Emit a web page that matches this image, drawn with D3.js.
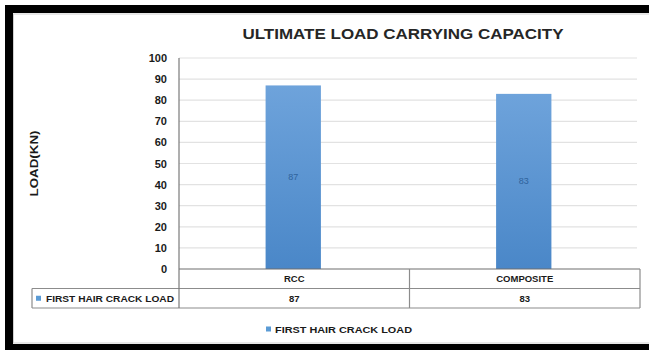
<!DOCTYPE html>
<html>
<head>
<meta charset="utf-8">
<script src="https://cdn.jsdelivr.net/npm/d3@7"></script>
<style>
  html, body { margin: 0; padding: 0; background: #ffffff; }
  svg { display: block; }
  .lbl { font-family: "Liberation Sans Narrow", "Arial Narrow", "Liberation Sans", Arial, sans-serif; font-weight: bold; fill: #1a1a1a; }
</style>
</head>
<body>
<svg id="chart" width="649" height="350"></svg>
<script>
// Chart data
const categories = ["RCC", "COMPOSITE"];
const seriesName = "FIRST HAIR CRACK LOAD";
const firstCrackLoad = [87, 83];
const yTicks = [0, 10, 20, 30, 40, 50, 60, 70, 80, 90, 100];
const chartTitle = "ULTIMATE LOAD CARRYING CAPACITY";
const yAxisTitle = "LOAD(KN)";

const svg = d3.select("#chart");
const W = 649, H = 350;

// Plot geometry
const plot = { left: 179, right: 640, top: 58, bottom: 269 };
const rowH = 19.5;
const tableLeft = 32;

const x = d3.scaleBand().domain(categories).range([plot.left, plot.right]).padding(0);
const y = d3.scaleLinear().domain([0, 100]).range([plot.bottom, plot.top]);

// Bar gradient
const defs = svg.append("defs");
const grad = defs.append("linearGradient").attr("id", "barGrad")
  .attr("x1", 0).attr("y1", 0).attr("x2", 0).attr("y2", 1);
grad.append("stop").attr("offset", "0%").attr("stop-color", "#6ea3db");
grad.append("stop").attr("offset", "100%").attr("stop-color", "#4a87c8");

// Background
svg.append("rect").attr("x", 0).attr("y", 0).attr("width", W).attr("height", H).attr("fill", "#ffffff");

// Gridlines
svg.append("g")
  .selectAll("line")
  .data(yTicks.filter(t => t > 0))
  .join("line")
  .attr("x1", plot.left).attr("x2", plot.right - 3)
  .attr("y1", d => y(d)).attr("y2", d => y(d))
  .attr("stroke", "#e2e2e2").attr("stroke-width", 1.2);

// Y axis labels
const yAxis = d3.axisLeft(y).tickValues(yTicks).tickSize(0).tickPadding(12);
const gy = svg.append("g").attr("transform", `translate(${plot.left},0)`).call(yAxis);
gy.select(".domain").remove();
gy.selectAll("text").attr("class", "lbl").attr("font-size", 11).style("font-weight", "bold").attr("fill", "#1a1a1a");

// Bars
const barW = x.bandwidth() * 0.24;
svg.append("g")
  .selectAll("rect")
  .data(categories)
  .join("rect")
  .attr("x", d => x(d) + x.bandwidth() / 2 - barW / 2 - 1)
  .attr("y", (d, i) => y(firstCrackLoad[i]))
  .attr("width", barW)
  .attr("height", (d, i) => y(0) - y(firstCrackLoad[i]))
  .attr("fill", "url(#barGrad)");

// Value labels inside bars
svg.append("g")
  .selectAll("text")
  .data(categories)
  .join("text")
  .attr("x", d => x(d) + x.bandwidth() / 2 - 1)
  .attr("y", (d, i) => (y(firstCrackLoad[i]) + y(0)) / 2 + 3)
  .attr("text-anchor", "middle")
  .attr("font-family", "Liberation Sans, Arial, sans-serif")
  .attr("font-size", 9)
  .attr("fill", "#2f639c")
  .text((d, i) => firstCrackLoad[i]);

// Data table lines
const tbl = svg.append("g").attr("stroke", "#8c8c8c").attr("stroke-width", 1.2).attr("fill", "none");
tbl.append("line").attr("x1", plot.left).attr("x2", plot.right).attr("y1", plot.bottom).attr("y2", plot.bottom).attr("stroke", "#6e6e6e");
tbl.append("line").attr("x1", tableLeft).attr("x2", plot.right).attr("y1", plot.bottom + rowH).attr("y2", plot.bottom + rowH);
tbl.append("line").attr("x1", tableLeft).attr("x2", plot.right).attr("y1", plot.bottom + 2 * rowH).attr("y2", plot.bottom + 2 * rowH);
tbl.append("line").attr("x1", tableLeft).attr("x2", tableLeft).attr("y1", plot.bottom + rowH).attr("y2", plot.bottom + 2 * rowH);
tbl.append("line").attr("x1", plot.left).attr("x2", plot.left).attr("y1", plot.top).attr("y2", plot.bottom + 2 * rowH).attr("stroke", "#7a7a7a");
categories.forEach(c => {
  tbl.append("line").attr("x1", x(c) + x.bandwidth()).attr("x2", x(c) + x.bandwidth())
    .attr("y1", plot.bottom).attr("y2", plot.bottom + 2 * rowH);
});

// Category labels row
svg.append("g")
  .selectAll("text")
  .data(categories)
  .join("text")
  .attr("class", "lbl")
  .attr("x", d => x(d) + x.bandwidth() / 2)
  .attr("y", plot.bottom + rowH / 2 + 3.5)
  .attr("text-anchor", "middle")
  .attr("font-size", 9.5)
  .text(d => d);

// Values row
svg.append("g")
  .selectAll("text")
  .data(categories)
  .join("text")
  .attr("class", "lbl")
  .attr("x", d => x(d) + x.bandwidth() / 2)
  .attr("y", plot.bottom + rowH * 1.5 + 3.5)
  .attr("text-anchor", "middle")
  .attr("font-size", 9.5)
  .text((d, i) => firstCrackLoad[i]);

// Row header with legend key
svg.append("rect").attr("x", tableLeft + 4).attr("y", plot.bottom + rowH * 1.5 - 2.5)
  .attr("width", 5).attr("height", 5).attr("fill", "#5b9bd5");
svg.append("text").attr("class", "lbl")
  .attr("x", tableLeft + 14).attr("y", plot.bottom + rowH * 1.5 + 3.5)
  .attr("font-size", 9.5).attr("textLength", 128).attr("lengthAdjust", "spacingAndGlyphs")
  .text(seriesName);

// Bottom legend
svg.append("rect").attr("x", 266).attr("y", 326.5).attr("width", 5).attr("height", 5).attr("fill", "#5b9bd5");
svg.append("text").attr("class", "lbl")
  .attr("x", 275).attr("y", 332.5)
  .attr("font-size", 9.5).attr("textLength", 137).attr("lengthAdjust", "spacingAndGlyphs")
  .text(seriesName);

// Title
svg.append("text")
  .attr("x", 403).attr("y", 39)
  .attr("text-anchor", "middle")
  .attr("font-family", "Liberation Sans, Arial, sans-serif")
  .attr("font-weight", "bold")
  .attr("font-size", 14)
  .attr("fill", "#262626")
  .attr("textLength", 321).attr("lengthAdjust", "spacingAndGlyphs")
  .text(chartTitle);

// Y axis title
svg.append("text")
  .attr("class", "lbl")
  .attr("transform", `translate(38,${(plot.top + plot.bottom) / 2}) rotate(-90)`)
  .attr("text-anchor", "middle")
  .attr("font-size", 10.5)
  .attr("textLength", 66).attr("lengthAdjust", "spacingAndGlyphs")
  .text(yAxisTitle);

// Outer frame
svg.append("rect").attr("x", 13.5).attr("y", 14).attr("width", 700).attr("height", 329)
  .attr("fill", "none").attr("stroke", "#d0d0d0").attr("stroke-width", 1);
svg.append("rect").attr("x", 9).attr("y", 9).attr("width", 700).attr("height", 339)
  .attr("fill", "none").attr("stroke", "#000000").attr("stroke-width", 8);
</script>
</body>
</html>
